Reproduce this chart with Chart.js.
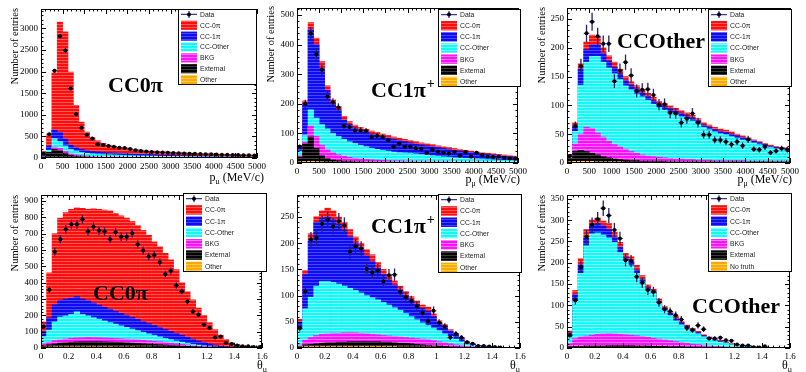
<!DOCTYPE html>
<html>
<head>
<meta charset="utf-8">
<script src="https://cdn.jsdelivr.net/npm/chart.js@4.4.1/dist/chart.umd.min.js"></script>
<style>
  html, body { margin: 0; padding: 0; background: #fff; }
  body { width: 806px; height: 372px; position: relative; overflow: hidden; }
  canvas { position: absolute; }
</style>
</head>
<body>
<script>
// binning: p_mu in 125 MeV/c bins, theta_mu in 0.04 bins (40 bins each)
const P_WIDTH = 125, TH_WIDTH = 0.04, NBINS = 40;
const pCenters = Array.from({length: NBINS}, (_, i) => (i + 0.5) * P_WIDTH);
const thCenters = Array.from({length: NBINS}, (_, i) => +((i + 0.5) * TH_WIDTH).toFixed(2));

const legendP = ['Data', 'CC-0π', 'CC-1π', 'CC-Other', 'BKG', 'External', 'Other'];
const legendNoTruth = ['Data', 'CC-0π', 'CC-1π', 'CC-Other', 'BKG', 'External', 'No truth'];

// each layer array = top edge of that layer in the stack (red is the full stack)
// --- CC0pi, p_mu
const cc0pi_p_data  = [100, 550, 2020, 2820, 2490, 1610, 1020, 700, 540, 450, 320, 300, 280, 260, 240, 230, 210, 180, 160, 150, 140, 135, 128, 122, 116, 110, 105, 100, 96, 92, 88, 85, 80, 77, 74, 71, 68, 65, 62, 58];
const cc0pi_p_red   = [150, 520, 1970, 3150, 2920, 1990, 1220, 830, 600, 470, 400, 340, 300, 270, 250, 230, 210, 195, 182, 170, 160, 152, 145, 138, 132, 126, 120, 115, 110, 105, 100, 96, 92, 88, 84, 80, 76, 72, 68, 64];
const cc0pi_p_blue  = [60, 280, 650, 590, 440, 300, 240, 200, 170, 150, 140, 130, 122, 115, 108, 102, 96, 90, 85, 80, 75, 70, 66, 62, 58, 55, 52, 49, 46, 43, 40, 38, 36, 34, 32, 30, 28, 26, 24, 22];
const cc0pi_p_cyan  = [45, 180, 450, 380, 280, 200, 160, 130, 110, 95, 88, 82, 76, 71, 66, 62, 58, 54, 51, 48, 45, 42, 40, 38, 36, 34, 32, 30, 28, 26, 25, 24, 23, 22, 21, 20, 19, 18, 17, 16];
const cc0pi_p_bkg   = [35, 110, 250, 220, 150, 100, 70, 55, 45, 38, 33, 29, 26, 24, 22, 20, 18, 17, 16, 15, 14, 13, 12, 12, 11, 11, 10, 10, 9, 9, 8, 8, 8, 7, 7, 7, 6, 6, 6, 6];
const cc0pi_p_ext   = [30, 130, 200, 170, 110, 60, 40, 30, 25, 20, 17, 15, 13, 12, 11, 10, 9, 8, 8, 7, 7, 6, 6, 6, 5, 5, 5, 5, 4, 4, 4, 4, 4, 3, 3, 3, 3, 3, 3, 3];
const cc0pi_p_other = [10, 15, 20, 18, 14, 10, 8, 7, 6, 5, 5, 5, 4, 4, 4, 4, 4, 3, 3, 3, 3, 3, 3, 3, 3, 3, 2, 2, 2, 2, 2, 2, 2, 2, 2, 2, 2, 2, 2, 2];

// --- CC1pi+, p_mu
const cc1pi_p_data  = [55, 200, 438, 368, 315, 225, 205, 188, 125, 122, 110, 110, 108, 88, 92, 88, 77, 55, 65, 55, 55, 50, 48, 35, 45, 38, 35, 32, 38, 25, 37, 22, 35, 27, 22, 20, 22, 18, 15, 15];
const cc1pi_p_red   = [60, 210, 475, 422, 343, 261, 213, 191, 158, 140, 128, 120, 114, 108, 103, 98, 93, 88, 84, 80, 76, 72, 68, 65, 62, 58, 55, 52, 49, 46, 43, 40, 37, 35, 33, 31, 29, 27, 25, 23];
const cc1pi_p_blue  = [50, 200, 450, 400, 320, 245, 200, 180, 145, 130, 118, 110, 104, 98, 93, 88, 84, 80, 76, 72, 68, 64, 61, 58, 55, 52, 49, 46, 43, 40, 38, 35, 33, 31, 29, 27, 25, 23, 21, 19];
const cc1pi_p_cyan  = [40, 95, 180, 152, 130, 115, 100, 90, 80, 72, 66, 60, 55, 50, 46, 43, 40, 37, 35, 34, 33, 31, 29, 27, 25, 23, 21, 20, 18, 17, 16, 15, 14, 13, 12, 11, 10, 9, 9, 8];
const cc1pi_p_bkg   = [25, 70, 125, 90, 60, 45, 35, 28, 23, 19, 16, 14, 12, 11, 10, 9, 8, 7, 7, 6, 6, 5, 5, 5, 4, 4, 4, 4, 3, 3, 3, 3, 3, 3, 3, 2, 2, 2, 2, 2];
const cc1pi_p_ext   = [20, 65, 88, 50, 25, 15, 10, 8, 6, 5, 4, 4, 3, 3, 3, 3, 3, 2, 2, 2, 2, 2, 2, 2, 2, 2, 2, 1, 1, 1, 1, 1, 1, 1, 1, 1, 1, 1, 1, 1];
const cc1pi_p_other = [4, 5, 6, 5, 4, 3, 3, 3, 2, 2, 2, 2, 2, 2, 2, 2, 2, 2, 2, 2, 1, 1, 1, 1, 1, 1, 1, 1, 1, 1, 1, 1, 1, 1, 1, 1, 1, 1, 1, 1];

// --- CCOther, p_mu
const ccoth_p_data  = [12, 64, 168, 225, 245, 220, 207, 207, 142, 160, 175, 152, 125, 127, 128, 118, 101, 102, 87, 86, 70, 77, 86, 70, 49, 49, 40, 40, 37, 32, 37, 30, 41, 24, 23, 28, 18, 21, 25, 23];
const ccoth_p_red   = [15, 70, 172, 210, 222, 220, 200, 186, 175, 163, 150, 141, 134, 128, 121, 114, 107, 103, 99, 95, 91, 87, 83, 77, 70, 66, 62, 59, 57, 54, 50, 47, 44, 40, 37, 34, 31, 29, 27, 26];
const ccoth_p_blue  = [12, 65, 163, 197, 205, 205, 190, 177, 166, 155, 143, 135, 128, 122, 115, 108, 102, 98, 94, 90, 86, 82, 78, 73, 66, 62, 58, 55, 53, 50, 47, 44, 41, 38, 35, 32, 29, 27, 25, 24];
const ccoth_p_cyan  = [10, 55, 135, 175, 185, 185, 175, 165, 155, 145, 134, 127, 120, 115, 109, 102, 96, 92, 88, 84, 80, 76, 73, 68, 62, 58, 54, 51, 49, 46, 43, 40, 38, 35, 32, 29, 27, 25, 23, 22];
const ccoth_p_bkg   = [8, 33, 50, 62, 60, 52, 45, 38, 32, 28, 24, 20, 17, 14, 12, 11, 10, 9, 8, 7, 7, 6, 6, 5, 5, 5, 4, 4, 4, 4, 4, 4, 3, 3, 3, 3, 3, 3, 3, 3];
const ccoth_p_ext   = [8, 20, 22, 20, 17, 14, 11, 9, 7, 6, 5, 4, 4, 3, 3, 3, 3, 3, 2, 2, 2, 2, 2, 2, 2, 2, 2, 2, 2, 2, 2, 2, 2, 2, 2, 2, 2, 2, 2, 2];
const ccoth_p_other = [2, 3, 3, 3, 3, 2, 2, 2, 2, 2, 1, 1, 1, 1, 1, 1, 1, 1, 1, 1, 1, 1, 1, 1, 1, 1, 1, 1, 1, 1, 1, 1, 1, 1, 1, 1, 1, 1, 1, 1];

// --- CC0pi, theta_mu
const cc0pi_t_data  = [132, 356, 590, 666, 727, 758, 758, 788, 713, 743, 719, 713, 666, 709, 682, 682, 703, 635, 597, 560, 570, 525, 452, 472, 383, 346, 285, 224, 204, 143, 122, 65, 71, 31, 24, 16, 10, 10, 6, 4];
const cc0pi_t_red   = [160, 460, 700, 795, 830, 850, 858, 855, 850, 852, 850, 845, 840, 825, 810, 795, 775, 750, 720, 690, 650, 620, 580, 540, 480, 400, 345, 295, 245, 200, 155, 112, 78, 52, 33, 22, 14, 9, 5, 3];
const cc0pi_t_blue  = [100, 185, 265, 292, 300, 305, 315, 300, 290, 276, 263, 250, 238, 225, 212, 200, 188, 175, 162, 150, 138, 126, 114, 102, 90, 78, 66, 54, 43, 34, 25, 18, 12, 8, 5, 3, 2, 2, 1, 1];
const cc0pi_t_cyan  = [70, 110, 160, 190, 196, 206, 222, 206, 196, 186, 176, 166, 156, 146, 136, 126, 116, 106, 96, 86, 77, 68, 59, 51, 43, 36, 29, 23, 18, 13, 9, 6, 4, 3, 2, 1, 1, 1, 0, 0];
const cc0pi_t_bkg   = [25, 35, 45, 50, 55, 60, 62, 63, 65, 64, 63, 62, 60, 58, 56, 54, 52, 50, 47, 44, 41, 38, 34, 30, 26, 22, 18, 14, 11, 8, 6, 4, 3, 2, 1, 1, 1, 0, 0, 0];
const cc0pi_t_ext   = [15, 20, 25, 30, 32, 35, 37, 38, 38, 38, 38, 37, 36, 35, 34, 32, 30, 28, 26, 24, 22, 20, 18, 16, 14, 12, 10, 8, 6, 5, 4, 3, 2, 1, 1, 1, 0, 0, 0, 0];
const cc0pi_t_other = [6, 7, 8, 8, 8, 8, 8, 8, 8, 8, 8, 8, 8, 7, 7, 7, 7, 6, 6, 6, 5, 5, 5, 4, 4, 4, 3, 3, 3, 2, 2, 2, 1, 1, 1, 0, 0, 0, 0, 0];

// --- CC1pi+, theta_mu
const cc1pi_t_data  = [38, 108, 207, 210, 237, 245, 232, 242, 234, 184, 194, 190, 151, 144, 148, 127, 139, 140, 107, 97, 90, 80, 67, 51, 71, 48, 41, 20, 27, 20, 11, 8, 4, 4, 3, 2, 1, null, null, null];
const cc1pi_t_red   = [55, 148, 218, 251, 262, 267, 262, 250, 240, 226, 212, 200, 188, 178, 163, 150, 140, 128, 118, 108, 98, 90, 82, 78, 65, 52, 45, 35, 28, 20, 12, 8, 5, 3, 2, 2, 1, 1, 0, 0];
const cc1pi_t_blue  = [50, 140, 205, 240, 248, 250, 245, 236, 225, 212, 200, 188, 176, 165, 152, 140, 130, 120, 110, 100, 91, 83, 76, 70, 60, 48, 41, 32, 25, 18, 11, 7, 4, 3, 2, 1, 1, 0, 0, 0];
const cc1pi_t_cyan  = [35, 75, 97, 118, 127, 127, 125, 122, 118, 114, 110, 105, 100, 96, 92, 87, 82, 77, 72, 66, 60, 54, 48, 43, 38, 33, 27, 22, 17, 12, 8, 5, 3, 2, 1, 1, 0, 0, 0, 0];
const cc1pi_t_bkg   = [5, 15, 20, 24, 26, 27, 28, 28, 29, 29, 29, 28, 27, 26, 25, 24, 23, 22, 21, 20, 19, 18, 17, 16, 14, 12, 10, 8, 6, 5, 3, 2, 1, 1, 0, 0, 0, 0, 0, 0];
const cc1pi_t_ext   = [3, 6, 7, 8, 9, 10, 10, 11, 11, 12, 12, 12, 12, 12, 12, 11, 11, 10, 9, 9, 8, 7, 6, 5, 4, 4, 3, 2, 2, 1, 1, 0, 0, 0, 0, 0, 0, 0, 0, 0];
const cc1pi_t_other = [2, 3, 3, 3, 3, 3, 3, 3, 3, 3, 3, 3, 3, 3, 3, 3, 3, 3, 2, 2, 2, 2, 2, 2, 2, 1, 1, 1, 1, 1, 0, 0, 0, 0, 0, 0, 0, 0, 0, 0];

// --- CCOther, theta_mu
const ccoth_t_data  = [30, 112, 190, 261, 289, 302, 328, 311, 277, 257, 206, 204, 167, 153, 136, 132, 107, 91, 86, 77, 67, 47, 42, 53, 44, 22, 22, 24, 18, 17, 8, 6, 6, 2, 1, 4, null, null, null, null];
const ccoth_t_red   = [40, 135, 210, 278, 300, 305, 298, 292, 272, 248, 222, 214, 194, 170, 148, 138, 115, 98, 86, 74, 63, 54, 46, 39, 31, 26, 21, 18, 14, 10, 8, 6, 4, 3, 2, 2, 1, 1, 0, 0];
const ccoth_t_blue  = [35, 125, 195, 258, 288, 292, 287, 278, 260, 236, 212, 203, 183, 161, 141, 132, 109, 93, 81, 69, 59, 50, 42, 36, 29, 24, 19, 16, 12, 9, 7, 5, 3, 2, 2, 1, 1, 0, 0, 0];
const ccoth_t_cyan  = [25, 110, 175, 240, 268, 270, 265, 258, 248, 224, 205, 193, 175, 155, 136, 128, 104, 88, 76, 64, 54, 46, 39, 33, 26, 21, 17, 14, 11, 8, 6, 4, 3, 2, 1, 1, 0, 0, 0, 0];
const ccoth_t_bkg   = [10, 22, 26, 28, 30, 32, 33, 34, 33, 32, 31, 30, 29, 27, 25, 23, 21, 19, 17, 15, 13, 11, 9, 8, 6, 5, 4, 3, 2, 1, 1, 1, 0, 0, 0, 0, 0, 0, 0, 0];
const ccoth_t_ext   = [3, 4, 4, 5, 5, 5, 5, 6, 6, 6, 6, 6, 5, 5, 5, 4, 4, 4, 3, 3, 3, 2, 2, 2, 1, 1, 1, 1, 1, 0, 0, 0, 0, 0, 0, 0, 0, 0, 0, 0];
const ccoth_t_other = [1, 2, 2, 2, 2, 2, 2, 2, 2, 2, 2, 2, 2, 2, 1, 1, 1, 1, 1, 1, 1, 1, 1, 1, 1, 0, 0, 0, 0, 0, 0, 0, 0, 0, 0, 0, 0, 0, 0, 0];

// ROOT-like striped fills
function hatch(base, light) {
  const t = document.createElement('canvas');
  t.width = 4; t.height = 3;
  const c = t.getContext('2d');
  c.fillStyle = base; c.fillRect(0, 0, 4, 3);
  c.fillStyle = light; c.fillRect(0, 0, 4, 1);
  return c.createPattern(t, 'repeat');
}
const FILLS = [
  hatch('#ff0d0d', '#ff5a5a'),   // CC-0pi
  hatch('#0d0df0', '#4646ff'),   // CC-1pi
  hatch('#14f8f8', '#86ffff'),   // CC-Other
  hatch('#ff10ff', '#ff74ff'),   // BKG
  hatch('#000000', '#3c3c3c'),   // External
  hatch('#ffaa00', '#ffcc55')    // Other
];
const ERR_COLOR = '#22226e';
const SERIF = "'Liberation Serif', 'Times New Roman', serif";
const SANS = "'Liberation Sans', Arial, sans-serif";

const thTitle = ['θ', 'μ', ''];
const pTitle = ['p', 'μ', ' (MeV/c)'];

const PANELS = [
  { area: [41, 9, 257, 158], centers: pCenters, bin: P_WIDTH, xMax: 5000, xMajor: 500, xMinor: 100,
    yMax: 3450, yMajor: 500, yMinor: 100, data: cc0pi_p_data,
    layers: [cc0pi_p_red, cc0pi_p_blue, cc0pi_p_cyan, cc0pi_p_bkg, cc0pi_p_ext, cc0pi_p_other],
    xTitle: pTitle, xTitlePos: [264, 181], yTitlePos: [15, 8],
    label: ['CC0π', ''], labelPos: [108, 92], legend: [178, 9, 257, 85], legendLabels: legendP },
  { area: [297, 8, 518, 163], centers: pCenters, bin: P_WIDTH, xMax: 5000, xMajor: 500, xMinor: 100,
    yMax: 524, yMajor: 100, yMinor: 20, data: cc1pi_p_data,
    layers: [cc1pi_p_red, cc1pi_p_blue, cc1pi_p_cyan, cc1pi_p_bkg, cc1pi_p_ext, cc1pi_p_other],
    xTitle: pTitle, xTitlePos: [520, 183], yTitlePos: [271, 6],
    label: ['CC1π', '+'], labelPos: [371, 97], legend: [438, 9, 521, 87], legendLabels: legendP },
  { area: [567, 8, 790, 163], centers: pCenters, bin: P_WIDTH, xMax: 5000, xMajor: 500, xMinor: 100,
    yMax: 269, yMajor: 50, yMinor: 10, data: ccoth_p_data,
    layers: [ccoth_p_red, ccoth_p_blue, ccoth_p_cyan, ccoth_p_bkg, ccoth_p_ext, ccoth_p_other],
    xTitle: pTitle, xTitlePos: [792, 183], yTitlePos: [542, 7],
    label: ['CCOther', ''], labelPos: [617, 48], legend: [708, 9, 792, 87], legendLabels: legendP },
  { area: [41, 195, 262, 348], centers: thCenters, bin: TH_WIDTH, xMax: 1.6, xMajor: 0.2, xMinor: 0.04,
    yMax: 937, yMajor: 100, yMinor: 20, data: cc0pi_t_data,
    layers: [cc0pi_t_red, cc0pi_t_blue, cc0pi_t_cyan, cc0pi_t_bkg, cc0pi_t_ext, cc0pi_t_other],
    xTitle: thTitle, xTitlePos: [267, 369], yTitlePos: [15, 195],
    label: ['CC0π', ''], labelPos: [93, 300], legend: [183, 193, 267, 272], legendLabels: legendP },
  { area: [297, 195, 520, 348], centers: thCenters, bin: TH_WIDTH, xMax: 1.6, xMajor: 0.2, xMinor: 0.04,
    yMax: 292, yMajor: 50, yMinor: 10, data: cc1pi_t_data,
    layers: [cc1pi_t_red, cc1pi_t_blue, cc1pi_t_cyan, cc1pi_t_bkg, cc1pi_t_ext, cc1pi_t_other],
    xTitle: thTitle, xTitlePos: [520, 369], yTitlePos: null,
    label: ['CC1π', '+'], labelPos: [371, 233], legend: [438, 194, 522, 273], legendLabels: legendP },
  { area: [567, 195, 790, 348], centers: thCenters, bin: TH_WIDTH, xMax: 1.6, xMajor: 0.2, xMinor: 0.04,
    yMax: 359, yMajor: 50, yMinor: 10, data: ccoth_t_data,
    layers: [ccoth_t_red, ccoth_t_blue, ccoth_t_cyan, ccoth_t_bkg, ccoth_t_ext, ccoth_t_other],
    xTitle: thTitle, xTitlePos: [792, 369], yTitlePos: [542, 195],
    label: ['CCOther', ''], labelPos: [692, 313], legend: [708, 193, 792, 272], legendLabels: legendNoTruth }
];

const Y_AXIS_W = 41, X_AXIS_H = 26, PAD_TOP = 9, PAD_RIGHT = 12;

// ticks at exact multiples of the major step, no extra tick at the axis end
function majorTicks(max, step) {
  const out = [];
  const n = Math.floor(max / step + 1e-6);
  for (let i = 0; i <= n; i++) out.push({ value: +(i * step).toFixed(6) });
  return out;
}

// frame, inner ticks, titles, big label and legend
const rootDecor = {
  id: 'rootDecor',
  beforeDatasetDraw(chart, args) {
    if (args.meta.type !== 'scatter') return;
    const ctx = chart.ctx, xs = chart.scales.x, ys = chart.scales.y;
    const half = chart.$panel.bin / 2;
    ctx.save();
    ctx.strokeStyle = ERR_COLOR;
    args.meta._parsed.forEach(p => {
      if (p.y == null || p.y <= 0) return;
      const err = Math.sqrt(p.y);
      const px = xs.getPixelForValue(p.x), py = ys.getPixelForValue(p.y);
      ctx.lineWidth = 1.3;
      ctx.beginPath();
      ctx.moveTo(px, ys.getPixelForValue(p.y - err));
      ctx.lineTo(px, ys.getPixelForValue(p.y + err));
      ctx.stroke();
      ctx.lineWidth = 1;
      ctx.beginPath();
      ctx.moveTo(xs.getPixelForValue(p.x - half), py);
      ctx.lineTo(xs.getPixelForValue(p.x + half), py);
      ctx.stroke();
    });
    ctx.restore();
  },
  afterDraw(chart) {
    const ctx = chart.ctx, a = chart.chartArea, P = chart.$panel;
    const ox = chart.$origin[0], oy = chart.$origin[1];
    const xs = chart.scales.x, ys = chart.scales.y;
    ctx.save();
    // frame
    ctx.strokeStyle = '#000'; ctx.lineWidth = 1;
    ctx.strokeRect(Math.round(a.left) + 0.5, Math.round(a.top) + 0.5,
                   Math.round(a.right - a.left) - 1, Math.round(a.bottom - a.top) - 1);
    // ticks pointing inwards on all four sides
    ctx.beginPath();
    const nx = Math.round(P.xMax / P.xMinor);
    for (let i = 0; i <= nx; i++) {
      const v = i * P.xMinor;
      const major = Math.abs(v / P.xMajor - Math.round(v / P.xMajor)) < 1e-6;
      const len = major ? 5 : 2.5;
      const px = Math.round(xs.getPixelForValue(v)) + 0.5;
      ctx.moveTo(px, a.bottom); ctx.lineTo(px, a.bottom - len);
      ctx.moveTo(px, a.top); ctx.lineTo(px, a.top + len);
    }
    const ny = Math.floor(P.yMax / P.yMinor + 1e-6);
    for (let i = 0; i <= ny; i++) {
      const v = i * P.yMinor;
      const major = Math.abs(v / P.yMajor - Math.round(v / P.yMajor)) < 1e-6;
      const len = major ? 5 : 2.5;
      const py = Math.round(ys.getPixelForValue(v)) + 0.5;
      ctx.moveTo(a.left, py); ctx.lineTo(a.left + len, py);
      ctx.moveTo(a.right, py); ctx.lineTo(a.right - len, py);
    }
    ctx.stroke();

    ctx.fillStyle = '#000';
    // y title
    if (P.yTitlePos) {
      ctx.save();
      ctx.translate(P.yTitlePos[0] - ox, P.yTitlePos[1] - oy);
      ctx.rotate(-Math.PI / 2);
      ctx.font = '10.5px ' + SERIF;
      ctx.textAlign = 'right'; ctx.textBaseline = 'middle';
      ctx.fillText('Number of entries', 0, 0);
      ctx.restore();
    }
    // x title with subscript
    {
      const [main, sub, rest] = P.xTitle;
      const mf = '12px ' + SERIF, sf = '8px ' + SERIF;
      ctx.font = mf; const w1 = ctx.measureText(main).width, w3 = ctx.measureText(rest).width;
      ctx.font = sf; const w2 = ctx.measureText(sub).width;
      let x = P.xTitlePos[0] - ox - (w1 + w2 + w3);
      const y = P.xTitlePos[1] - oy;
      ctx.textAlign = 'left'; ctx.textBaseline = 'alphabetic';
      ctx.font = mf; ctx.fillText(main, x, y); x += w1;
      ctx.font = sf; ctx.fillText(sub, x, y + 3); x += w2;
      ctx.font = mf; ctx.fillText(rest, x, y);
    }
    // big channel label
    {
      const lf = 'bold 22px ' + SERIF;
      ctx.font = lf; ctx.textAlign = 'left'; ctx.textBaseline = 'alphabetic';
      const lx = P.labelPos[0] - ox, ly = P.labelPos[1] - oy;
      ctx.fillText(P.label[0], lx, ly);
      if (P.label[1]) {
        const w = ctx.measureText(P.label[0]).width;
        ctx.font = 'bold 14px ' + SERIF;
        ctx.fillText(P.label[1], lx + w + 1, ly - 9);
      }
    }
    // legend box
    {
      const [x0, y0, x1, y1] = [P.legend[0] - ox, P.legend[1] - oy, P.legend[2] - ox, P.legend[3] - oy];
      ctx.fillStyle = '#fff';
      ctx.fillRect(x0, y0, x1 - x0, y1 - y0);
      ctx.strokeStyle = '#000'; ctx.lineWidth = 1;
      ctx.strokeRect(Math.round(x0) + 0.5, Math.round(y0) + 0.5, Math.round(x1 - x0) - 1, Math.round(y1 - y0) - 1);
      const rh = (y1 - y0) / 7;
      ctx.font = '6.8px ' + SANS;
      ctx.textAlign = 'left'; ctx.textBaseline = 'middle';
      P.legendLabels.forEach((lab, i) => {
        const cy = y0 + rh * (i + 0.5);
        if (i === 0) {
          ctx.strokeStyle = '#3a3a90'; ctx.lineWidth = 1.3;
          ctx.beginPath();
          ctx.moveTo(x0 + 3, cy); ctx.lineTo(x0 + 19, cy);
          ctx.moveTo(x0 + 11, cy - 3.5); ctx.lineTo(x0 + 11, cy + 3.5);
          ctx.stroke();
          ctx.fillStyle = '#000';
          ctx.beginPath(); ctx.arc(x0 + 11, cy, 2, 0, Math.PI * 2); ctx.fill();
        } else {
          ctx.fillStyle = FILLS[i - 1];
          ctx.fillRect(x0 + 3, cy - rh * 0.42, 16, rh * 0.84);
        }
        ctx.fillStyle = '#222';
        ctx.fillText(lab, x0 + 22, cy + 0.5);
      });
    }
    ctx.restore();
  }
};

const layerNames = ['CC-0π', 'CC-1π', 'CC-Other', 'BKG', 'External', 'Other'];

PANELS.forEach(P => {
  const [L, T, R, B] = P.area;
  const cl = L - Y_AXIS_W, ct = T - PAD_TOP;
  const cw = R + PAD_RIGHT - cl, ch = B + X_AXIS_H - ct;
  const cv = document.createElement('canvas');
  cv.width = cw; cv.height = ch;
  cv.style.left = cl + 'px'; cv.style.top = ct + 'px';
  cv.style.width = cw + 'px'; cv.style.height = ch + 'px';
  document.body.appendChild(cv);

  const datasets = P.layers.map((arr, i) => ({
    type: 'bar',
    label: layerNames[i],
    data: P.centers.map((c, k) => ({x: c, y: arr[k]})),
    backgroundColor: FILLS[i],
    borderWidth: 0,
    barPercentage: 1,
    categoryPercentage: 1,
    grouped: false,
    order: 6 - i
  }));
  datasets.push({
    type: 'scatter',
    label: 'Data',
    data: P.centers.map((c, k) => ({x: c, y: P.data[k]})),
    pointRadius: 2,
    pointBorderWidth: 0,
    pointBackgroundColor: '#000',
    order: 0
  });

  const isTheta = P.xMax < 10;
  new Chart(cv, {
    type: 'bar',
    data: { datasets },
    options: {
      responsive: false,
      animation: false,
      devicePixelRatio: 1,
      events: [],
      layout: { padding: { left: 0, top: PAD_TOP, right: PAD_RIGHT, bottom: 0 } },
      plugins: { legend: { display: false }, tooltip: { enabled: false }, title: { display: false } },
      scales: {
        x: {
          type: 'linear', min: 0, max: P.xMax, offset: false,
          grid: { display: false, drawTicks: false }, border: { display: false },
          afterFit: s => { s.height = X_AXIS_H; },
          afterBuildTicks: s => { s.ticks = majorTicks(P.xMax, P.xMajor); },
          ticks: {
            autoSkip: false, maxRotation: 0, padding: 3, color: '#000',
            font: { family: SERIF, size: 9 },
            callback: v => isTheta ? String(Math.round(v * 10) / 10) : String(v)
          }
        },
        y: {
          type: 'linear', min: 0, max: P.yMax,
          grid: { display: false, drawTicks: false }, border: { display: false },
          afterFit: s => { s.width = Y_AXIS_W; },
          afterBuildTicks: s => { s.ticks = majorTicks(P.yMax, P.yMajor); },
          ticks: {
            autoSkip: false, padding: 3, color: '#000',
            font: { family: SERIF, size: 9 },
            callback: v => String(v)
          }
        }
      }
    },
    plugins: [{
      id: 'panelRef',
      beforeInit(c) { c.$panel = P; c.$origin = [cl, ct]; }
    }, rootDecor]
  });
});
</script>
</body>
</html>
